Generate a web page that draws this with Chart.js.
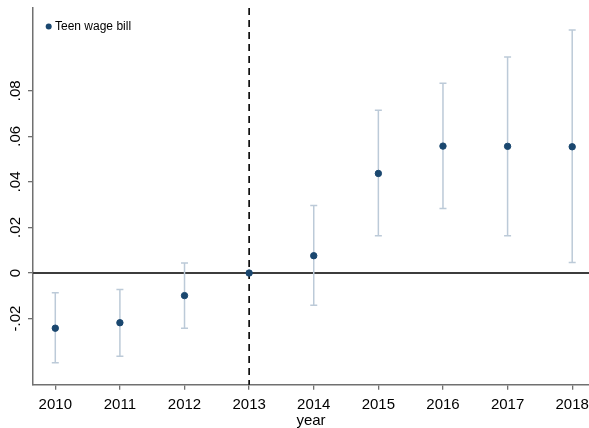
<!DOCTYPE html>
<html>
<head>
<meta charset="utf-8">
<script src="https://cdn.jsdelivr.net/npm/chart.js@4"></script>
<style>
  body { margin: 0; background: #fff; overflow: hidden; }
  #wrap { position: relative; width: 589px; height: 428px; }
</style>
</head>
<body>
<div id="wrap"><canvas id="chart"></canvas></div>
<script>
// Data
const years = [2010, 2011, 2012, 2013, 2014, 2015, 2016, 2017, 2018];
const estimates = [-0.0242, -0.0218, -0.0099, 0, 0.0076, 0.0437, 0.0557, 0.0556, 0.0554];
const ciLow = [-0.0394, -0.0365, -0.0242, null, -0.0141, 0.0164, 0.0283, 0.0164, 0.0046];
const ciHigh = [-0.0086, -0.0072, 0.0044, null, 0.0296, 0.0714, 0.0833, 0.0948, 0.1066];
const yTicks = [-0.02, 0, 0.02, 0.04, 0.06, 0.08];
const yTickLabels = ['-.02', '0', '.02', '.04', '.06', '.08'];
const seriesLabel = 'Teen wage bill';
const refYear = 2013;

const markerColor = '#1a476f';
const barColor = '#bccad8';
const axisColor = '#707070';
const font = 'Liberation Sans, Arial, sans-serif';

// Error bars, zero line and dashed reference line, under the points
const refLines = {
    id: 'refLines',
    beforeDatasetsDraw(chart) {
        const { ctx, chartArea, scales: { x, y } } = chart;
        ctx.save();
        // zero line
        const y0 = y.getPixelForValue(0);
        ctx.strokeStyle = '#3c3c3c';
        ctx.lineWidth = 2;
        ctx.beginPath();
        ctx.moveTo(chartArea.left, y0);
        ctx.lineTo(chart.width, y0);
        ctx.stroke();
        // dashed line at reference year
        const xr = x.getPixelForValue(refYear);
        ctx.strokeStyle = '#000';
        ctx.lineWidth = 1.6;
        ctx.setLineDash([7, 5]);
        ctx.beginPath();
        ctx.moveTo(xr, chartArea.top);
        ctx.lineTo(xr, chartArea.bottom);
        ctx.stroke();
        ctx.setLineDash([]);
        // confidence intervals
        ctx.strokeStyle = barColor;
        ctx.lineWidth = 1.5;
        years.forEach((yr, i) => {
            if (ciLow[i] === null) return;
            const px = x.getPixelForValue(yr);
            const lo = y.getPixelForValue(ciLow[i]);
            const hi = y.getPixelForValue(ciHigh[i]);
            ctx.beginPath();
            ctx.moveTo(px, lo); ctx.lineTo(px, hi);
            ctx.moveTo(px - 3.5, lo); ctx.lineTo(px + 3.5, lo);
            ctx.moveTo(px - 3.5, hi); ctx.lineTo(px + 3.5, hi);
            ctx.stroke();
        });
        ctx.restore();
    },
    afterDraw(chart) {
        // legend inside the plot, top left
        const { ctx } = chart;
        ctx.save();
        ctx.fillStyle = markerColor;
        ctx.beginPath();
        ctx.arc(48.7, 26.5, 3, 0, Math.PI * 2);
        ctx.fill();
        ctx.fillStyle = '#000';
        ctx.font = '12px ' + font;
        ctx.textBaseline = 'middle';
        ctx.fillText(seriesLabel, 55, 27);
        ctx.restore();
    }
};

new Chart(document.getElementById('chart'), {
    type: 'scatter',
    data: {
        datasets: [{
            label: seriesLabel,
            data: years.map((yr, i) => ({ x: yr, y: estimates[i] })),
            backgroundColor: markerColor,
            borderColor: markerColor,
            pointRadius: 3.2,
            pointHoverRadius: 3.2
        }]
    },
    options: {
        responsive: true,
        maintainAspectRatio: false,
        animation: false,
        layout: { autoPadding: false, padding: { top: 8, right: 0, left: 0, bottom: 0 } },
        plugins: { legend: { display: false }, tooltip: { enabled: false } },
        scales: {
            x: {
                type: 'linear',
                min: 2009.655,
                max: 2018.26,
                afterBuildTicks: s => { s.ticks = years.map(v => ({ value: v })); },
                afterFit: s => { s.height = 43.3; s.paddingLeft = 0; s.paddingRight = 0; },
                grid: { display: true, drawOnChartArea: false, drawTicks: true, tickLength: 5, color: axisColor, lineWidth: 1.3 },
                border: { display: true, color: axisColor, width: 1.5 },
                ticks: { color: '#000', font: { family: font, size: 15 }, padding: 6, maxRotation: 0, autoSkip: false,
                    callback: v => String(v) },
                title: { display: true, text: 'year', color: '#000', font: { family: font, size: 15 }, padding: { top: 0, bottom: -2 } }
            },
            y: {
                min: -0.049,
                max: 0.1163,
                afterBuildTicks: s => { s.ticks = yTicks.map(v => ({ value: v })); },
                afterFit: s => { s.width = 33; s.paddingTop = 0; s.paddingBottom = 0; },
                grid: { display: true, drawOnChartArea: false, drawTicks: true, tickLength: 5, color: axisColor, lineWidth: 1.3 },
                border: { display: true, color: axisColor, width: 1.5 },
                ticks: { color: '#000', font: { family: font, size: 15 }, padding: -1, minRotation: 90, maxRotation: 90,
                    crossAlign: 'center', autoSkip: false,
                    callback: v => yTickLabels[yTicks.findIndex(t => Math.abs(t - v) < 1e-9)] }
            }
        }
    },
    plugins: [refLines]
});
</script>
</body>
</html>
